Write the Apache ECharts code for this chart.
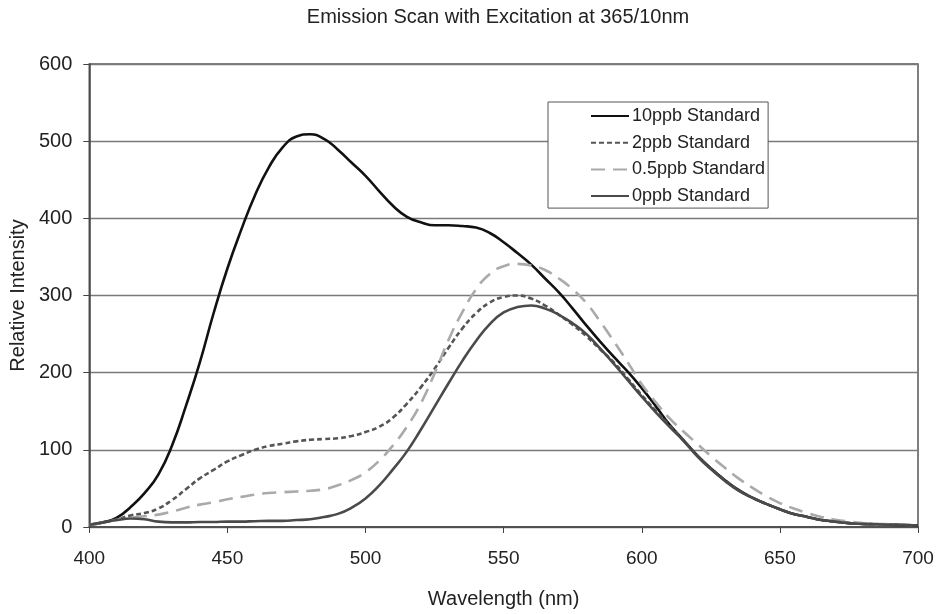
<!DOCTYPE html>
<html>
<head>
<meta charset="utf-8">
<script src="https://cdn.jsdelivr.net/npm/echarts@6/dist/echarts.min.js"></script>
<style>
  html, body { margin: 0; padding: 0; background: #fff; }
  #chart { width: 943px; height: 614px; }
</style>
</head>
<body>
<div id="chart"></div>
<script>
  // wavelength (nm), every 5 nm
  const wavelengths = [];
  for (let w = 400; w <= 700; w += 5) wavelengths.push(w);

  const std10 = [3, 6, 12, 26, 44, 68, 106, 157, 213, 277, 335, 385, 430, 466, 492, 506, 509, 503, 489, 472,
    455, 435, 416, 402, 395, 391, 391, 390, 388, 381, 369, 355, 340, 322, 304, 283, 261, 240, 220, 201,
    180, 157, 133, 113, 93, 76, 61, 48, 38, 30, 23, 17, 13, 9, 7, 5, 4, 3.5, 3, 2.5, 2];
  const std2 = [3, 6, 10, 15, 18, 24, 35, 49, 63, 74, 85, 93, 100, 105, 108, 111, 113, 114, 115, 118,
    123, 130, 142, 160, 181, 205, 232, 257, 277, 291, 298, 300, 296, 287, 275, 262, 247, 230, 213, 192,
    171, 151, 132, 113, 93, 76, 61, 48, 38, 30, 23, 17, 13, 9, 7, 5, 4, 3.5, 3, 2.5, 2];
  const std05 = [3, 6, 9, 12, 14, 16, 20, 25, 29, 32, 36, 39, 42, 44, 45, 46, 47, 49, 54, 61,
    71, 86, 106, 130, 160, 199, 242, 278, 308, 328, 338, 341, 339, 333, 322, 308, 290, 266, 240, 213,
    185, 162, 141, 124, 108, 92, 77, 63, 51, 40, 31, 24, 18, 13, 9.5, 7, 5, 4, 3.5, 3, 2.5];
  const std0 = [3, 6, 9, 11, 10, 7, 6, 6, 6.5, 6.5, 7, 7, 7.5, 8, 8, 9, 10, 13, 17, 25,
    37, 54, 75, 98, 126, 156, 186, 215, 241, 263, 278, 285, 287, 283, 275, 264, 250, 231, 211, 190,
    169, 149, 130, 112, 92, 75, 60, 47, 38, 30, 23, 17, 13, 9, 7, 5, 4, 3.5, 3, 2.5, 2];

  const seriesNames = ['10ppb Standard', '2ppb Standard', '0.5ppb Standard', '0ppb Standard'];
  const xTicks = [400, 450, 500, 550, 600, 650, 700];

  function pairs(vals) {
    return wavelengths.map((w, i) => [w, vals[i]]);
  }

  const font = 'Liberation Sans, Arial, sans-serif';
  const chart = echarts.init(document.getElementById('chart'));

  const option = {
    animation: false,
    backgroundColor: '#fff',
    title: {
      text: 'Emission Scan with Excitation at 365/10nm',
      left: 493,
      textAlign: 'center',
      top: 2,
      textStyle: { fontFamily: font, fontSize: 20, fontWeight: 'normal', color: '#222' }
    },
    legend: {
      orient: 'vertical',
      left: 548,
      top: 102,
      padding: [5, 3, 3, 42],
      itemWidth: 38,
      itemHeight: 14,
      itemGap: 8.7,
      backgroundColor: '#fff',
      borderColor: '#555',
      borderWidth: 1,
      itemStyle: { opacity: 0 },
      textStyle: { fontFamily: font, fontSize: 18, color: '#222', padding: [0, 0, 0, -2] },
      data: seriesNames
    },
    grid: {
      left: 88,
      right: 25,
      top: 64,
      bottom: 85,
      show: true,
      borderColor: '#555',
      borderWidth: 1.5
    },
    xAxis: {
      type: 'value',
      min: xTicks[0],
      max: xTicks[xTicks.length - 1],
      interval: 50,
      name: 'Wavelength (nm)',
      nameLocation: 'middle',
      nameGap: 62,
      nameTextStyle: { fontFamily: font, fontSize: 20, color: '#222' },
      axisLine: { lineStyle: { color: '#444', width: 1.5 } },
      axisTick: { show: true, length: 6, lineStyle: { color: '#444' } },
      axisLabel: { fontFamily: font, fontSize: 19, color: '#222', margin: 22 },
      splitLine: { show: false }
    },
    yAxis: {
      type: 'value',
      min: 0,
      max: 600,
      interval: 100,
      name: 'Relative Intensity',
      nameLocation: 'middle',
      nameGap: 61,
      nameTextStyle: { fontFamily: font, fontSize: 20, color: '#222' },
      axisLine: { show: true, lineStyle: { color: '#444', width: 1.5 } },
      axisTick: { show: true, length: 6, lineStyle: { color: '#444' } },
      axisLabel: { fontFamily: font, fontSize: 20, color: '#222', margin: 17 },
      splitLine: { show: true, lineStyle: { color: '#7a7a7a', width: 1.4 } }
    },
    series: [
      {
        name: seriesNames[0], type: 'line', smooth: true, symbol: 'none',
        lineStyle: { color: '#111', width: 2.6 }, itemStyle: { color: '#111' },
        data: pairs(std10)
      },
      {
        name: seriesNames[1], type: 'line', smooth: true, symbol: 'none',
        lineStyle: { color: '#555', width: 2.6, type: [5, 3] }, itemStyle: { color: '#555' },
        data: pairs(std2)
      },
      {
        name: seriesNames[2], type: 'line', smooth: true, symbol: 'none',
        lineStyle: { color: '#aaa', width: 2.6, type: [14, 8] }, itemStyle: { color: '#aaa' },
        data: pairs(std05)
      },
      {
        name: seriesNames[3], type: 'line', smooth: true, symbol: 'none',
        lineStyle: { color: '#4a4a4a', width: 2.6 }, itemStyle: { color: '#4a4a4a' },
        data: pairs(std0)
      }
    ]
  };

  chart.setOption(option);
</script>
</body>
</html>
